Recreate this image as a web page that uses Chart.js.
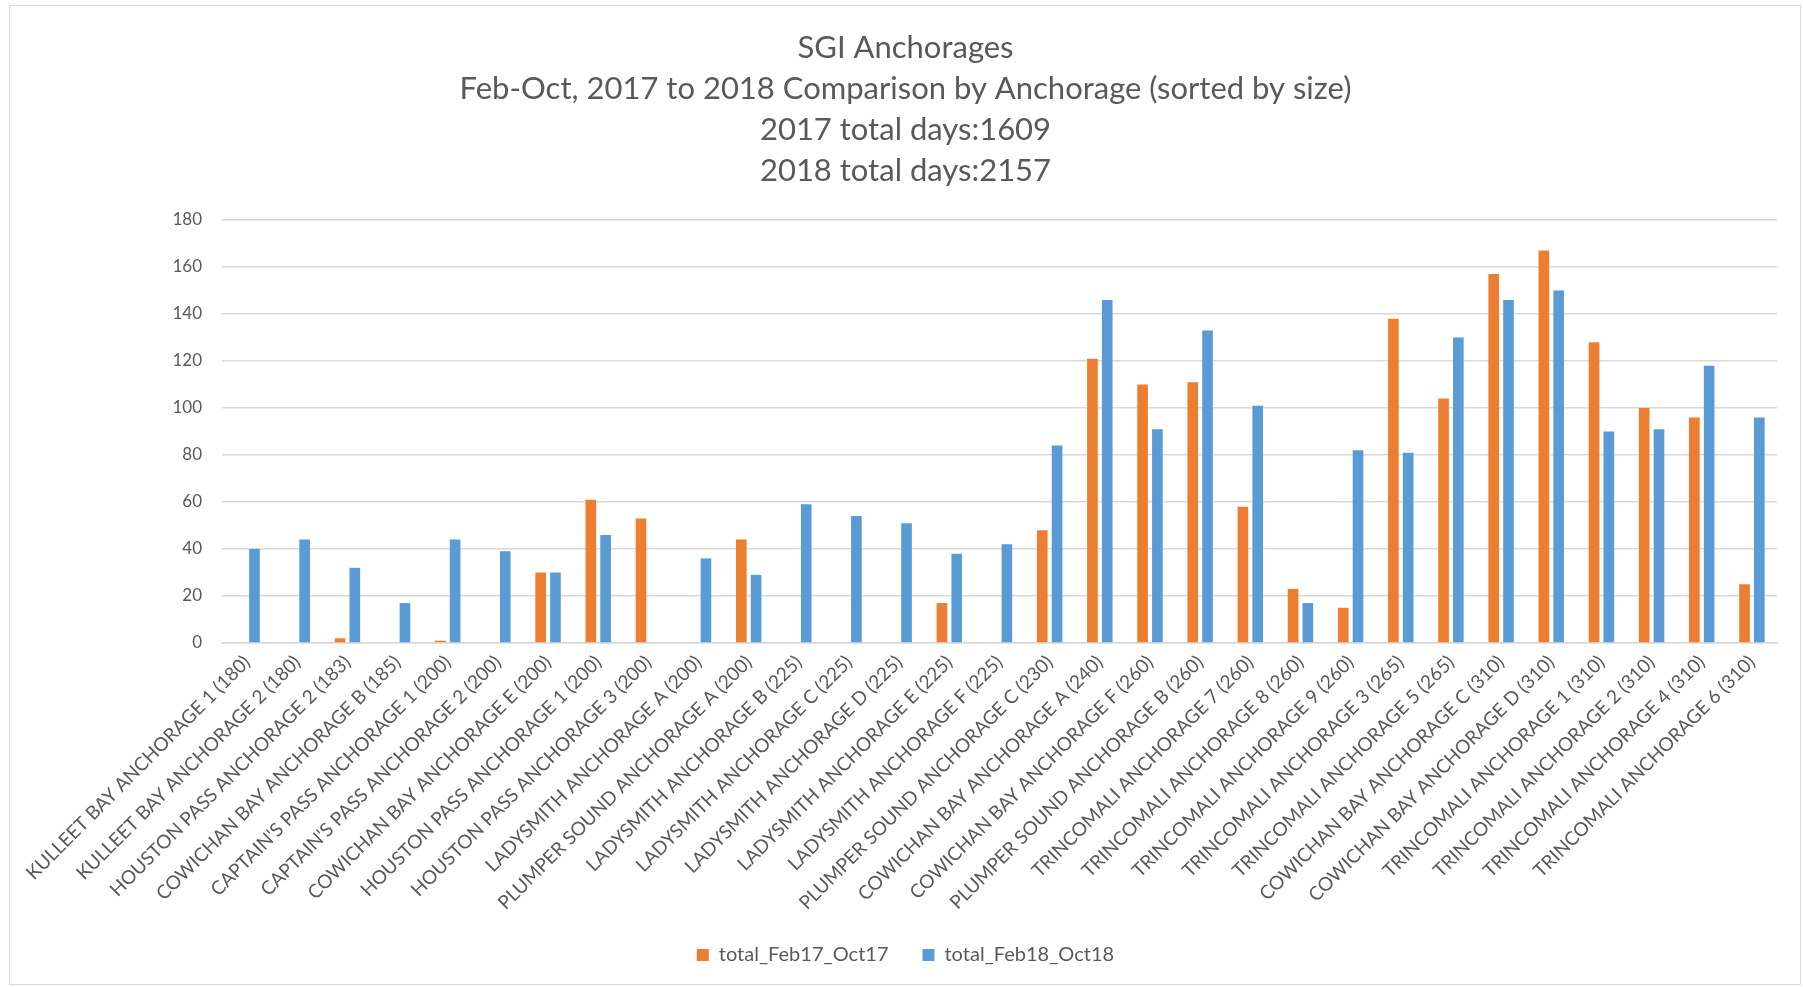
<!DOCTYPE html>
<html><head><meta charset="utf-8">
<script src="https://cdn.jsdelivr.net/npm/chart.js@4.4.1/dist/chart.umd.min.js"></script>
<style>
html,body{margin:0;padding:0;background:#fff;overflow:hidden;}
#wrap{position:absolute;left:0;top:0;width:1803px;height:987px;}
#frame{position:absolute;left:9px;top:5px;width:1790px;height:978px;border:1px solid #d9d9d9;pointer-events:none;}
</style></head><body>
<div id="wrap"><canvas id="c" width="1803" height="987"></canvas></div>
<div id="frame"></div>
<script>
const categories = [
"KULLEET BAY ANCHORAGE 1 (180)",
"KULLEET BAY ANCHORAGE 2 (180)",
"HOUSTON PASS ANCHORAGE 2 (183)",
"COWICHAN BAY ANCHORAGE B (185)",
"CAPTAIN'S PASS ANCHORAGE 1 (200)",
"CAPTAIN'S PASS ANCHORAGE 2 (200)",
"COWICHAN BAY ANCHORAGE E (200)",
"HOUSTON PASS ANCHORAGE 1 (200)",
"HOUSTON PASS ANCHORAGE 3 (200)",
"LADYSMITH ANCHORAGE A (200)",
"PLUMPER SOUND ANCHORAGE A (200)",
"LADYSMITH ANCHORAGE B (225)",
"LADYSMITH ANCHORAGE C (225)",
"LADYSMITH ANCHORAGE D (225)",
"LADYSMITH ANCHORAGE E (225)",
"LADYSMITH ANCHORAGE F (225)",
"PLUMPER SOUND ANCHORAGE C (230)",
"COWICHAN BAY ANCHORAGE A (240)",
"COWICHAN BAY ANCHORAGE F (260)",
"PLUMPER SOUND ANCHORAGE B (260)",
"TRINCOMALI ANCHORAGE 7 (260)",
"TRINCOMALI ANCHORAGE 8 (260)",
"TRINCOMALI ANCHORAGE 9 (260)",
"TRINCOMALI ANCHORAGE 3 (265)",
"TRINCOMALI ANCHORAGE 5 (265)",
"COWICHAN BAY ANCHORAGE C (310)",
"COWICHAN BAY ANCHORAGE D (310)",
"TRINCOMALI ANCHORAGE 1 (310)",
"TRINCOMALI ANCHORAGE 2 (310)",
"TRINCOMALI ANCHORAGE 4 (310)",
"TRINCOMALI ANCHORAGE 6 (310)"
];
const total_Feb17_Oct17 = [null,null,2,null,1,null,30,61,53,null,44,null,null,null,17,null,48,121,110,111,58,23,15,138,104,157,167,128,100,96,25];
const total_Feb18_Oct18 = [40,44,32,17,44,39,30,46,null,36,29,59,54,51,38,42,84,146,91,133,101,17,82,81,130,146,150,90,91,118,96];
const seriesNames = ["total_Feb17_Oct17","total_Feb18_Oct18"];
const titleLines = ["SGI Anchorages","Feb-Oct, 2017 to 2018 Comparison by Anchorage (sorted by size)","2017 total days:1609","2018 total days:2157"];
const yMin = 0, yMax = 180, yStep = 20;

const FONT = "Lato, 'Open Sans', sans-serif";
const TXT = "#595959";
const GRID = "#d9d9d9";

new Chart(document.getElementById('c'), {
  type: 'bar',
  data: {
    labels: categories,
    datasets: [
      {label: seriesNames[0], data: total_Feb17_Oct17, backgroundColor: '#ED7D31', borderWidth: 0},
      {label: seriesNames[1], data: total_Feb18_Oct18, backgroundColor: '#5B9BD5', borderWidth: 0}
    ]
  },
  options: {
    responsive: false,
    animation: false,
    devicePixelRatio: 1,
    categoryPercentage: 0.59,
    barPercentage: 0.72,
    layout: {padding: {left: 8, right: 0, top: 0, bottom: 12}},
    plugins: {
      title: {
        display: true,
        text: titleLines,
        color: TXT,
        font: {family: FONT, size: 31, weight: 'normal', lineHeight: 41/31},
        padding: {top: 27, bottom: 29}
      },
      legend: {
        position: 'bottom',
        labels: {
          color: TXT,
          font: {family: FONT, size: 20},
          boxWidth: 12, boxHeight: 12,
          padding: 34
        }
      },
      tooltip: {enabled: false}
    },
    scales: {
      x: {
        grid: {display: false, drawTicks: false},
        border: {display: true, color: GRID, width: 1.5},
        ticks: {
          color: TXT,
          font: {family: FONT, size: 19},
          maxRotation: 45, minRotation: 45,
          autoSkip: false,
          padding: 8
        },
        afterFit: s => {
          s.height = 268; s.paddingLeft = 0; s.paddingRight = 0;
          s._computeLabelArea = () => undefined;
        }
      },
      y: {
        min: yMin, max: yMax,
        grid: {color: GRID, lineWidth: 1.5, drawTicks: false},
        border: {display: false},
        ticks: {
          stepSize: yStep,
          color: TXT,
          font: {family: FONT, size: 17},
          padding: 20
        },
        afterFit: s => { s.width = 214; s.paddingTop = 0; s.paddingBottom = 0; }
      },
      yRight: {
        type: 'linear',
        position: 'right',
        display: true,
        grid: {display: false, drawTicks: false},
        border: {display: false},
        ticks: {display: false},
        afterFit: s => { s.width = 26; s.paddingTop = 0; s.paddingBottom = 0; }
      }
    }
  }
});
</script>
</body></html>
